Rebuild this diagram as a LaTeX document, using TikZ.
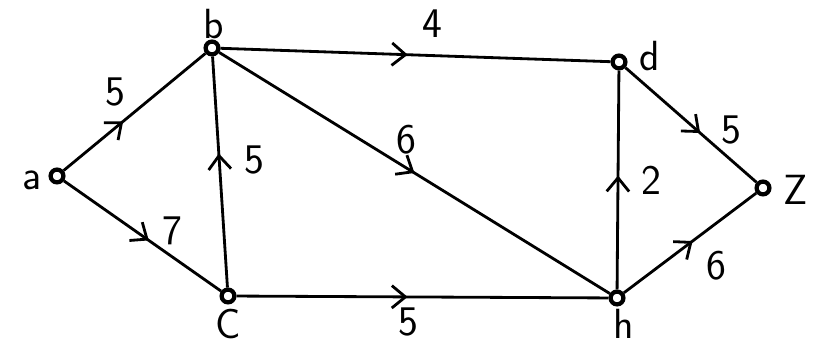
\documentclass[tikz,border=0pt]{standalone}
\usepackage{fontspec}
\usepackage{tikz}
\usetikzlibrary{arrows.meta,decorations.markings}

\begin{document}
\begin{tikzpicture}[x=0.025cm,y=0.025cm,
  vert/.style={circle,draw,line width=3pt,fill=white,inner sep=0pt,minimum size=3.2mm},
  vlabel/.style={font=\sffamily\fontsize{30}{32}\selectfont},
  wt/.style={font=\sffamily\fontsize{30}{32}\selectfont},
  arc/.style={line width=2pt,postaction={decorate},
    decoration={markings,mark=at position #1 with {\arrow{Straight Barb[length=3.4mm,width=5.6mm,line width=2pt]}}}}]
  \useasboundingbox (0,0) rectangle (813,346);
  % vertices
  \node[vert] (a) at (57,170) {};
  \node[vert] (b) at (212,298) {};
  \node[vert] (d) at (619,284) {};
  \node[vert] (z) at (763,158) {};
  \node[vert] (c) at (228,50) {};
  \node[vert] (h) at (617,48) {};
  % vertex names
  \node[vlabel] (na) at (32,166) {a};
  \node[vlabel] (nb) at (214,322) {b};
  \node[vlabel] (nd) at (650,290) {d};
  \node[vlabel] (nz) at (796,156) {Z};
  \node[vlabel] (nc) at (228,22) {C};
  \node[vlabel] (nh) at (624,22) {h};
  % arcs
  \draw[arc=0.42] (a) -- (b);
  \draw[arc=0.54] (a) -- (c);
  \draw[arc=0.58] (c) -- (b);
  \draw[arc=0.48] (b) -- (d);
  \draw[arc=0.5] (b) -- (h);
  \draw[arc=0.46] (c) -- (h);
  \draw[arc=0.52] (h) -- (d);
  \draw[arc=0.57] (d) -- (z);
  \draw[arc=0.52] (h) -- (z);
  % weights
  \node[wt] (wab) at (115,254) {5};
  \node[wt] (wac) at (172,115) {7};
  \node[wt] (wcb) at (254,186) {5};
  \node[wt] (wbd) at (432,322) {4};
  \node[wt] (wbh) at (406,206) {6};
  \node[wt] (wch) at (408,24) {5};
  \node[wt] (whd) at (651,166) {2};
  \node[wt] (wdz) at (731,216) {5};
  \node[wt] (whz) at (716,80) {6};
\end{tikzpicture}
\end{document}
